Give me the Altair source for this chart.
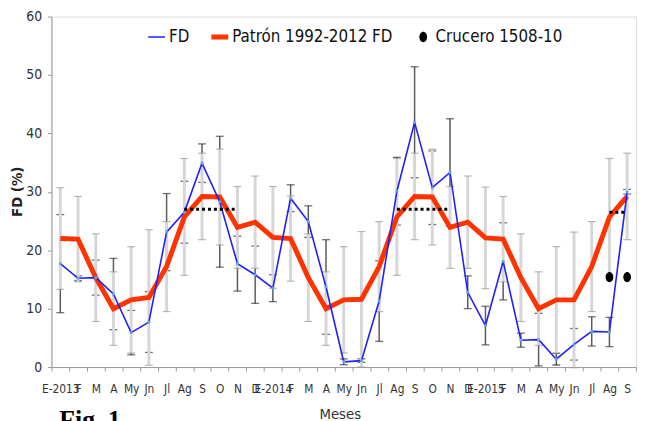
import altair as alt
import pandas as pd

labels = ["E-2013", "F", "M", "A", "My", "Jn", "Jl", "Ag", "S", "O", "N", "D",
          "E-2014", "F", "M", "A", "My", "Jn", "Jl", "Ag", "S", "O", "N", "D",
          "E-2015", "F", "M", "A", "My", "Jn", "Jl", "Ag", "S"]

fd = [17.7, 15.2, 15.3, 12.5, 5.9, 7.7, 23.1, 26.5, 34.9, 28.3, 17.7, 15.8,
      13.5, 28.9, 24.9, 13.7, 0.9, 1.1, 11.3, 30.1, 41.9, 30.7, 33.3, 12.8,
      7.1, 18.1, 4.6, 4.7, 1.35, 3.9, 6.1, 6.0, 30.0]
fd_err = [8.4, 0.4, 3.0, 6.1, 3.8, 5.2, 6.6, 5.3, 3.3, 11.2, 4.7, 4.9,
          2.3, 2.3, 2.7, 8.1, 0.5, 0.3, 6.9, 5.8, 9.5, 6.3, 9.2, 2.8,
          3.3, 6.6, 1.2, 4.5, 1.0, 2.7, 2.5, 2.5, 0.4]

patron = [22.0, 21.9, 15.3, 10.0, 11.5, 11.9, 17.2, 25.7, 29.2, 29.1, 23.9, 24.8,
          22.2, 22.0, 15.3, 10.0, 11.5, 11.6, 17.2, 25.7, 29.2, 29.1, 23.9, 24.8,
          22.1, 21.9, 15.3, 10.0, 11.5, 11.5, 17.2, 25.7, 29.2]
patron_err = [8.7, 7.3, 7.5, 6.3, 9.1, 11.6, 7.7, 10.0, 7.4, 8.2, 7.0, 7.9,
              8.7, 7.3, 7.5, 6.3, 9.1, 11.6, 7.7, 10.0, 7.4, 8.2, 7.0, 7.9,
              8.7, 7.3, 7.5, 6.3, 9.1, 11.6, 7.7, 10.0, 7.4]

crucero_idx = [31, 32]
crucero_val = [15.4, 15.4]

dotted_start = [7, 19, 31]
dotted_end = [10, 22, 32]
dotted_val = [27.0, 27.0, 26.5]

series = ["FD", "Patrón 1992-2012 FD", "Crucero 1508-10"]
series_colors = ["#1f1fff", "#ff3300", "#000000"]
series_shapes = ["M-1,-0.09H1V0.09H-1Z",
                 "M-1,-0.3H1V0.3H-1Z",
                 "M0,-0.62A0.46,0.62,0,1,1,0,0.62A0.46,0.62,0,1,1,0,-0.62Z"]

FONT = "Liberation Sans Narrow, DejaVu Sans Condensed, sans-serif"

n = len(labels)
df = pd.DataFrame({
    "i": list(range(n)),
    "fd": fd,
    "fd_lo": [v - e for v, e in zip(fd, fd_err)],
    "fd_hi": [v + e for v, e in zip(fd, fd_err)],
    "pat": patron,
    "pat_lo": [v - e for v, e in zip(patron, patron_err)],
    "pat_hi": [v + e for v, e in zip(patron, patron_err)],
})
df_cru = pd.DataFrame({"i": crucero_idx, "v": crucero_val, "serie": [series[2]] * len(crucero_idx)})
df_dot = pd.DataFrame({"i": dotted_start, "i2": dotted_end, "v": dotted_val})

label_expr = "[" + ",".join("'%s'" % l for l in labels) + "][datum.value]"

xscale = alt.Scale(domain=list(range(n)), paddingInner=0, paddingOuter=0)
xaxis = alt.Axis(title="Meses", labelExpr=label_expr, labelAngle=0, labelOverlap=False,
                 tickBand="extent", labelFont=FONT, labelFontSize=12, labelColor="#333333",
                 labelPadding=13, tickSize=4, tickColor="#999999", domainColor="#999999",
                 titleFont=FONT, titleFontSize=15, titleFontWeight="normal", titleColor="#333333",
                 titleX=292, titleY=40, titleBaseline="top", grid=False)
yscale = alt.Scale(domain=[0, 60], nice=False, zero=True)
yaxis = alt.Axis(title="FD (%)", values=[0, 10, 20, 30, 40, 50, 60], labelFont=FONT,
                 labelFontSize=14, labelColor="#333333", labelPadding=6, tickSize=4,
                 tickColor="#999999", domainColor="#999999", titleFont=FONT,
                 titleFontSize=15, titleFontWeight="bold", titleColor="#222222",
                 titleX=-27, titleY=177, grid=False)

X = alt.X("i:O", scale=xscale, axis=xaxis)

base = alt.Chart(df)

dark_bar = base.mark_rule(color="#5a5a5a", strokeWidth=1.5).encode(
    x=X, y=alt.Y("fd_lo:Q", scale=yscale, axis=yaxis), y2="fd_hi:Q")
dark_caps = base.transform_fold(["fd_lo", "fd_hi"], as_=["k", "val"]).mark_tick(
    color="#333333", size=8, thickness=1.3).encode(
    x=X, y=alt.Y("val:Q", scale=yscale, axis=yaxis))
light_bar = base.mark_rule(color="#d6d6d6", strokeWidth=3).encode(
    x=X, y=alt.Y("pat_lo:Q", scale=yscale, axis=yaxis), y2="pat_hi:Q")
light_caps = base.transform_fold(["pat_lo", "pat_hi"], as_=["k", "val"]).mark_tick(
    color="#9a9a9a", size=8, thickness=1.2).encode(
    x=X, y=alt.Y("val:Q", scale=yscale, axis=yaxis))

pat_line = base.mark_line(color="#ff3300", strokeWidth=5).encode(
    x=X, y=alt.Y("pat:Q", scale=yscale, axis=yaxis))
fd_line = base.mark_line(color="#1f1fff", strokeWidth=1.6).encode(
    x=X, y=alt.Y("fd:Q", scale=yscale, axis=yaxis))
fd_pts = base.mark_point(filled=True, color="#6aa6e0", size=10, opacity=1).encode(
    x=X, y=alt.Y("fd:Q", scale=yscale, axis=yaxis))

dots = alt.Chart(df_dot).mark_rule(color="#000000", strokeWidth=3, strokeDash=[3, 3]).encode(
    x=X, x2="i2", y=alt.Y("v:Q", scale=yscale, axis=yaxis))

leg = alt.Legend(title=None, orient="none", legendX=98, legendY=12, direction="horizontal",
                 labelFont=FONT, labelFontSize=17, labelColor="#111111", labelOffset=4,
                 symbolSize=289, symbolStrokeWidth=0, columnPadding=22, labelLimit=400)
cru = alt.Chart(df_cru).mark_point(filled=True, size=289, opacity=1).encode(
    x=X, y=alt.Y("v:Q", scale=yscale, axis=yaxis),
    color=alt.Color("serie:N", scale=alt.Scale(domain=series, range=series_colors), legend=leg),
    shape=alt.Shape("serie:N", scale=alt.Scale(domain=series, range=series_shapes), legend=leg))

fig = alt.Chart(pd.DataFrame({"t": ["Fig. 1"]})).mark_text(
    font="Liberation Serif", fontWeight="bold", fontSize=26, align="left", baseline="top",
    color="#000000").encode(text="t:N", x=alt.value(8), y=alt.value(396))

chart = alt.layer(dark_bar, dark_caps, light_bar, light_caps, pat_line, fd_line, fd_pts,
                  dots, cru, fig).properties(
    width=592, height=355,
    autosize=alt.AutoSizeParams(type="none"),
    padding={"left": 44, "top": 6, "right": 1, "bottom": 52},
).configure_view(stroke=None).configure(background="white")

chart.save("out.html", embed_options={"renderer": "svg", "actions": False})
